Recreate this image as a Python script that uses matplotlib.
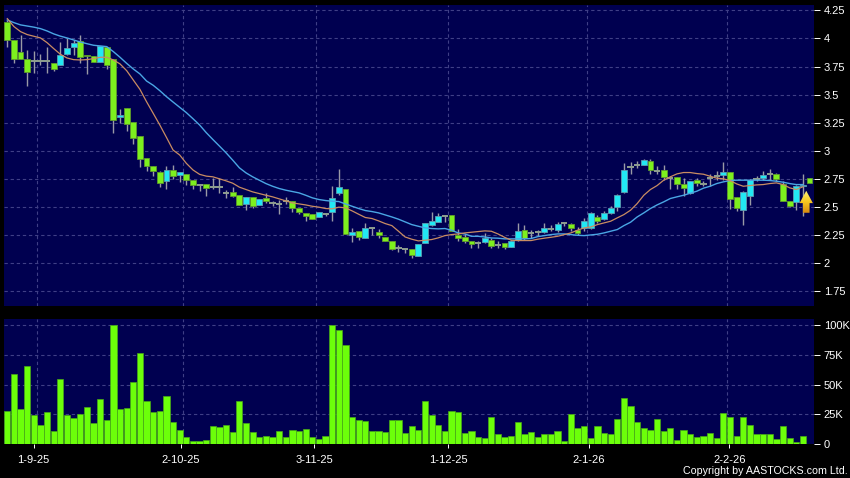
import numpy as np
import matplotlib
matplotlib.use('Agg')
import matplotlib.pyplot as plt
from matplotlib.patches import Polygon

opens = [4.143, 3.983, 3.876, 3.814, 3.796, 3.796, 3.796, 3.785, 3.76, 3.858, 3.92, 3.977, 3.855, 3.84, 3.787, 3.927,
         3.814, 3.298, 3.378, 3.254, 3.13, 2.933, 2.862, 2.809, 2.729, 2.832, 2.782, 2.79, 2.737, 2.70,
         2.703, 2.68, 2.68, 2.623, 2.635, 2.605, 2.531, 2.588, 2.52, 2.58, 2.537, 2.528, 2.555, 2.552, 2.493, 2.445,
         2.436, 2.415, 2.44, 2.46, 2.626, 2.659, 2.25, 2.285, 2.225, 2.31, 2.28, 2.232, 2.196, 2.136, 2.125, 2.128,
         2.065, 2.18, 2.341, 2.365, 2.42, 2.427, 2.252, 2.235, 2.196, 2.18, 2.19, 2.21, 2.166, 2.178, 2.145,
         2.21, 2.294, 2.27, 2.276, 2.28, 2.306, 2.297, 2.356, 2.347, 2.30, 2.315, 2.315, 2.41, 2.395, 2.448, 2.498,
         2.632, 2.858, 2.878, 2.878, 2.908, 2.822, 2.828, 2.76, 2.766, 2.709, 2.626, 2.739, 2.706, 2.757, 2.78,
         2.789, 2.813, 2.588, 2.475, 2.596, 2.75, 2.754, 2.795, 2.795, 2.709, 2.555, 2.549, 2.69, 2.757]
closes = [3.983, 3.814, 3.82, 3.698, 3.796, 3.796, 3.796, 3.73, 3.85, 3.918, 3.956, 3.838, 3.84, 3.787, 3.933, 3.76,
          3.274, 3.316, 3.236, 3.11, 2.924, 2.865, 2.818, 2.71, 2.832, 2.776, 2.809, 2.737, 2.693, 2.70,
          2.668, 2.68, 2.68, 2.623, 2.60, 2.52, 2.588, 2.507, 2.57, 2.552, 2.537, 2.528, 2.555, 2.493, 2.454, 2.418,
          2.395, 2.454, 2.44, 2.579, 2.677, 2.261, 2.276, 2.23, 2.312, 2.31, 2.25, 2.20, 2.13, 2.136, 2.125, 2.074,
          2.172, 2.359, 2.377, 2.418, 2.42, 2.288, 2.223, 2.20, 2.172, 2.18, 2.225, 2.157, 2.166, 2.145, 2.196,
          2.285, 2.223, 2.27, 2.276, 2.315, 2.306, 2.347, 2.356, 2.315, 2.27, 2.377, 2.448, 2.377, 2.445, 2.493, 2.608,
          2.828, 2.858, 2.878, 2.917, 2.831, 2.822, 2.769, 2.76, 2.709, 2.67, 2.73, 2.715, 2.706, 2.757, 2.78,
          2.813, 2.573, 2.496, 2.632, 2.745, 2.75, 2.783, 2.795, 2.75, 2.555, 2.513, 2.691, 2.70, 2.715]
highs = [4.16, 3.983, 4.03, 3.90, 3.888, 3.858, 3.927, 3.785, 3.97, 4.0, 3.99, 4.03, 3.855, 3.84, 3.933, 3.927,
         3.814, 3.37, 3.378, 3.254, 3.13, 2.933, 2.862, 2.818, 2.865, 2.874, 2.809, 2.79, 2.737, 2.70,
         2.703, 2.76, 2.76, 2.65, 2.68, 2.605, 2.588, 2.588, 2.57, 2.626, 2.558, 2.567, 2.59, 2.552, 2.493, 2.445,
         2.436, 2.454, 2.45, 2.685, 2.834, 2.659, 2.315, 2.285, 2.36, 2.316, 2.305, 2.232, 2.196, 2.163, 2.125, 2.128,
         2.172, 2.359, 2.46, 2.448, 2.433, 2.427, 2.306, 2.257, 2.196, 2.196, 2.27, 2.225, 2.196, 2.178, 2.21,
         2.36, 2.344, 2.30, 2.30, 2.355, 2.344, 2.365, 2.365, 2.359, 2.323, 2.405, 2.457, 2.433, 2.463, 2.508, 2.62,
         2.893, 2.902, 2.908, 2.93, 2.923, 2.863, 2.87, 2.775, 2.766, 2.757, 2.73, 2.76, 2.73, 2.79, 2.82,
         2.899, 2.813, 2.588, 2.64, 2.75, 2.775, 2.82, 2.84, 2.805, 2.73, 2.555, 2.70, 2.79, 2.757]
lows = [3.927, 3.785, 3.82, 3.58, 3.695, 3.76, 3.695, 3.713, 3.76, 3.85, 3.85, 3.785, 3.68, 3.787, 3.787, 3.725,
        3.16, 3.245, 3.18, 3.06, 2.86, 2.823, 2.776, 2.68, 2.66, 2.746, 2.723, 2.70, 2.66, 2.645,
        2.596, 2.662, 2.626, 2.579, 2.59, 2.514, 2.478, 2.49, 2.52, 2.537, 2.507, 2.442, 2.53, 2.454, 2.436, 2.38,
        2.39, 2.41, 2.42, 2.38, 2.605, 2.261, 2.187, 2.205, 2.225, 2.255, 2.225, 2.195, 2.122, 2.098, 2.09, 2.045,
        2.065, 2.181, 2.335, 2.365, 2.365, 2.288, 2.196, 2.181, 2.136, 2.136, 2.181, 2.136, 2.136, 2.128, 2.145,
        2.196, 2.21, 2.225, 2.24, 2.27, 2.285, 2.28, 2.33, 2.285, 2.255, 2.285, 2.306, 2.359, 2.386, 2.442, 2.463,
        2.626, 2.79, 2.849, 2.87, 2.795, 2.79, 2.745, 2.665, 2.66, 2.60, 2.62, 2.685, 2.685, 2.69, 2.745,
        2.745, 2.487, 2.469, 2.338, 2.522, 2.73, 2.745, 2.745, 2.73, 2.555, 2.50, 2.478, 2.424, 2.715]
volumes = [28, 58.5, 29, 66, 24, 16, 27, 11, 54.5, 24, 22, 25, 31, 17.5, 38, 20, 100, 29, 30, 52, 77, 36, 26.5, 28, 40,
           18, 11.5, 6, 2.5, 2, 3.4, 15, 14, 16, 9.6, 36, 17.5, 10, 6, 7, 5.6, 11, 5.5, 12, 11, 12.5, 5.5, 4, 7, 100,
           96, 83, 22.5, 20.5, 19, 11, 10.5, 10, 20, 20.5, 9, 14.7, 12, 36, 24, 16, 10.7, 27.4, 27, 9, 10.5, 5.6, 4.5,
           22.3, 8.5, 6, 7, 18, 8, 9.6, 5.6, 8, 8, 10.7, 2.3, 25.4, 13, 15, 5, 14.7, 8.7, 8, 21, 39, 31.6, 18.6, 13,
           12, 21, 10.5, 13, 3.4, 12, 8, 6, 6.5, 9.3, 4.5, 25.7, 22.5, 7, 22.3, 15.5, 8, 8, 8, 3.7, 15, 5, 1.1, 6.5, 0.2]
ma_short = [4.176, 4.105, 4.06, 4.034, 4.019, 4.004, 3.962, 3.909, 3.859, 3.826, 3.811, 3.808, 3.811, 3.82, 3.832, 3.832,
            3.808, 3.773, 3.713, 3.63, 3.547, 3.437, 3.334, 3.23, 3.12, 3.007, 2.963, 2.889, 2.83, 2.791, 2.775,
            2.769, 2.751, 2.733, 2.712, 2.677, 2.656, 2.635, 2.62, 2.605, 2.591, 2.573, 2.555, 2.537, 2.528, 2.519,
            2.507, 2.499, 2.487, 2.484, 2.499, 2.493, 2.466, 2.436, 2.407, 2.398, 2.377, 2.353, 2.335, 2.285, 2.234,
            2.214, 2.199,
            2.205, 2.211, 2.226, 2.246, 2.255, 2.261, 2.27, 2.276, 2.282, 2.288, 2.285, 2.261, 2.231, 2.205, 2.202,
            2.202, 2.202, 2.214, 2.223, 2.231, 2.24, 2.255, 2.27, 2.294, 2.315, 2.323, 2.344, 2.359, 2.374, 2.404,
            2.433, 2.472,
            2.531, 2.605, 2.656, 2.691, 2.739, 2.769, 2.795, 2.807, 2.807, 2.798, 2.792, 2.774, 2.757, 2.751, 2.736,
            2.706, 2.685, 2.691, 2.697, 2.70, 2.709, 2.715, 2.70, 2.671, 2.656, 2.68]
ma_long = [4.164, 4.14, 4.12, 4.11, 4.10, 4.087, 4.066, 4.04, 4.02, 4.004, 3.986, 3.968, 3.953, 3.939, 3.933, 3.927,
           3.882, 3.832, 3.778, 3.728, 3.684, 3.621, 3.583, 3.535, 3.482, 3.434, 3.387, 3.34, 3.286, 3.23, 3.162,
           3.101, 3.042, 2.982, 2.917, 2.849, 2.804, 2.769, 2.739, 2.709, 2.685, 2.665, 2.65, 2.638, 2.626, 2.605,
           2.582, 2.567, 2.558, 2.552, 2.549, 2.528, 2.507, 2.487, 2.469, 2.46, 2.448, 2.43, 2.412, 2.392, 2.368,
           2.344, 2.329,
           2.315, 2.309, 2.306, 2.309, 2.294, 2.27, 2.261, 2.24, 2.24, 2.234, 2.225, 2.223, 2.217, 2.217, 2.217,
           2.217, 2.22, 2.237, 2.246, 2.255, 2.261, 2.261, 2.255, 2.249, 2.246, 2.252, 2.258, 2.27, 2.285, 2.30,
           2.335, 2.365,
           2.412, 2.448, 2.487, 2.519, 2.546, 2.576, 2.591, 2.605, 2.623, 2.641, 2.668, 2.685, 2.709, 2.724, 2.736,
           2.739, 2.739, 2.739, 2.739, 2.739, 2.736, 2.73, 2.721, 2.709, 2.70, 2.70]

price_ticks = [1.75, 2, 2.25, 2.5, 2.75, 3, 3.25, 3.5, 3.75, 4, 4.25]
price_labels = ['1.75', '2', '2.25', '2.5', '2.75', '3', '3.25', '3.5', '3.75', '4', '4.25']
vol_ticks = [0, 25, 50, 75, 100]
vol_labels = ['0', '25K', '50K', '75K', '100K']
date_labels = ['1-9-25', '2-10-25', '3-11-25', '1-12-25', '2-1-26', '2-2-26']
date_ticks = [3.95, 26.15, 46.3, 66.5, 87.7, 108.9]
date_grid = [4.5, 26.5, 46.5, 66.5, 87.5, 108.5]

NAVY = '#000050'
GRID = '#3f3f86'
GREEN = '#7df01e'
GREEN_EDGE = '#5f9a2c'
CYAN = '#22e8f4'
CYAN_EDGE = '#5c9cb0'
WICK = '#9a9aa6'

plt.rcParams['font.family'] = ['Liberation Sans', 'DejaVu Sans']

W, H = 850, 478
fig = plt.figure(figsize=(W / 100, H / 100), dpi=100, facecolor='black')
ax = fig.add_axes([4 / W, (H - 306) / H, 810 / W, 301 / H], facecolor=NAVY)
ax2 = fig.add_axes([4 / W, (H - 443.8) / H, 810 / W, 124.8 / H], facecolor=NAVY)


def style_axis(a, ticks, labels):
    a.set_xlim(-0.5, 121.67)
    a.yaxis.tick_right()
    a.set_yticks(ticks)
    a.set_yticklabels(labels)
    a.set_xticks(date_grid, minor=True)
    a.grid(True, axis='y', color=GRID, linestyle=(0, (3, 2.5)), linewidth=0.8, zorder=0)
    a.grid(True, axis='x', which='minor', color=GRID, linestyle=(0, (3, 2.5)), linewidth=0.8, zorder=0)
    a.set_axisbelow(True)
    a.tick_params(axis='y', colors='white', labelsize=8, length=4, width=0.7, pad=3, right=True, left=False)
    a.tick_params(axis='x', which='minor', length=0)
    for s in a.spines.values():
        s.set_visible(False)


x = np.arange(len(closes))
opens_a, closes_a = np.array(opens), np.array(closes)
highs_a, lows_a = np.array(highs), np.array(lows)

ax.vlines(x, lows_a, highs_a, color=WICK, linewidth=1, zorder=2)

bottoms = np.minimum(opens_a, closes_a)
heights = np.abs(opens_a - closes_a)
up = closes_a > opens_a
down = closes_a < opens_a
doji = closes_a == opens_a
ax.bar(x[down], heights[down], bottom=bottoms[down], width=0.88, color=GREEN, edgecolor=GREEN_EDGE, linewidth=0.6, zorder=3)
ax.bar(x[up], heights[up], bottom=bottoms[up], width=0.88, color=CYAN, edgecolor=CYAN_EDGE, linewidth=0.6, zorder=3)
ax.hlines(closes_a[doji], x[doji] - 0.46, x[doji] + 0.46, color='#8f9f90', linewidth=1.4, zorder=3)

ax.plot(np.arange(len(ma_long)), ma_long, color='#4aa6e4', linewidth=1, zorder=4)
ax.plot(np.arange(len(ma_short)), ma_short, color='#c98c62', linewidth=0.9, zorder=4)

ax.set_ylim(1.62, 4.297)
style_axis(ax, price_ticks, price_labels)
ax.set_xticks([])

# arrow on the last sessions, yellow fading to orange
arrow = Polygon([(120.5, 2.645), (121.5, 2.535), (121.0, 2.535), (121.0, 2.449),
                 (120.0, 2.449), (120.0, 2.535), (119.5, 2.535)], closed=True,
                facecolor='none', edgecolor='none', zorder=5)
ax.add_patch(arrow)
grad = np.linspace(0, 1, 64).reshape(-1, 1)
cmap = matplotlib.colors.LinearSegmentedColormap.from_list('arrow', ['#fff27a', '#f8c820', '#d88a10'])
img = ax.imshow(grad, extent=(119.3, 121.7, 2.449, 2.645), origin='upper', cmap=cmap, aspect='auto', zorder=5)
img.set_clip_path(arrow)
ax.set_xlim(-0.5, 121.67)
ax.set_ylim(1.62, 4.297)

ax2.bar(x, volumes, width=0.94, color='#6cff0a', edgecolor='#48a818', linewidth=0.5, zorder=3)
ax2.set_ylim(0, 105.3)
style_axis(ax2, vol_ticks, vol_labels)
ax2.set_xticks(date_ticks)
ax2.set_xticklabels(date_labels)
ax2.tick_params(axis='x', which='major', colors='white', labelsize=8, length=3, width=0.7, pad=5)

fig.text(848 / W, (H - 471) / H, 'Copyright by AASTOCKS.com Ltd.', color='white', fontsize=7.7,
         ha='right', va='center')

fig.savefig('out.png', dpi=100, facecolor='black')
